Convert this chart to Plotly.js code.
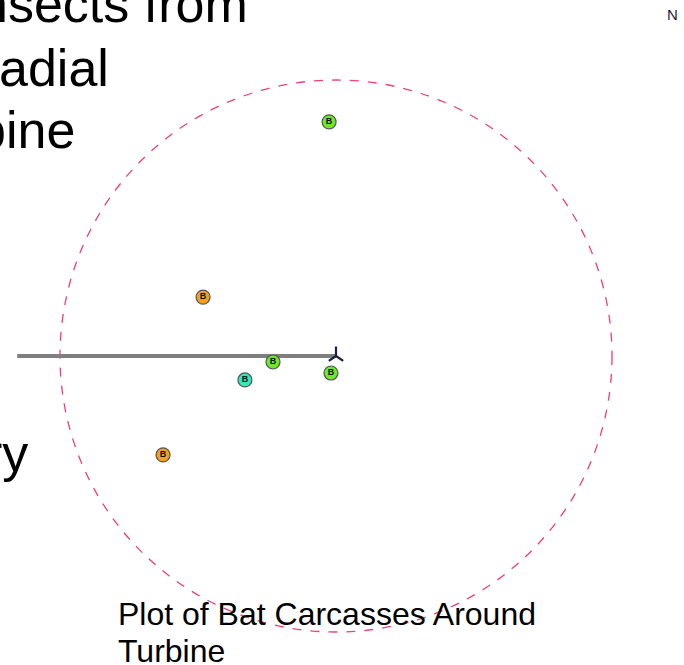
<!DOCTYPE html>
<html>
<head>
<meta charset="utf-8">
<script src="https://cdn.plot.ly/plotly-3.0.1.min.js"></script>
<style>
  html, body { margin: 0; padding: 0; background: #ffffff; overflow: hidden; }
  #chart { width: 684px; height: 665px; }
</style>
</head>
<body>
<div id="chart"></div>
<script>
// ---- data (metres, turbine at origin) ----
const batX = [-1.5, -28.9, -13.7, -19.8, -1.1, -37.6];
const batY = [50.9, 12.8, -1.3, -5.2, -3.7, -21.5];
const batCategory = ['A', 'B', 'A', 'C', 'A', 'B'];
const batLabel = ['B', 'B', 'B', 'B', 'B', 'B'];
const turbineX = [0];
const turbineY = [0];
const transectX = [0, -69.3];
const transectY = [0, 0];
const searchRadius = 60;

const slideLines = ['nsects from', 'adial', 'bine', 'ry'];
const captionLines = ['Plot of Bat Carcasses Around', 'Turbine'];

// ---- styling ----
const catColor = { A: '#6ee82a', B: '#f2a21a', C: '#33e8b8' };
const W = 684, H = 665;
const px = v => v / W;
const py = v => 1 - v / H;

const traces = [];
traces.push({
  x: transectX, y: transectY, mode: 'lines', type: 'scatter',
  line: { color: '#7f7f7f', width: 4 }, hoverinfo: 'skip', showlegend: false
});
['A', 'B', 'C'].forEach(c => {
  const xs = [], ys = [], ts = [];
  batX.forEach((v, i) => {
    if (batCategory[i] === c) { xs.push(v); ys.push(batY[i]); ts.push(batLabel[i]); }
  });
  traces.push({
    x: xs, y: ys, text: ts, mode: 'markers+text', type: 'scatter',
    textposition: 'middle center',
    textfont: { family: 'Liberation Sans, Arial, sans-serif', size: 9, color: '#111111', weight: 'bold' },
    marker: { size: 14, color: catColor[c], line: { color: '#555555', width: 1.2 } },
    showlegend: false
  });
});
traces.push({
  x: turbineX, y: turbineY, mode: 'markers', type: 'scatter',
  marker: { symbol: 'y-up', size: 12, color: '#1a2040', line: { color: '#1a2040', width: 2.2 } },
  showlegend: false
});

const scale = 4.6; // px per metre
const xr = [-336 / scale, (W - 336) / scale];
const yr = [(356 - H) / scale, 356 / scale];

const bigFont = { family: 'Liberation Sans, Arial, sans-serif', size: 52, color: '#000000' };
const capFont = { family: 'Liberation Sans, Arial, sans-serif', size: 32, color: '#000000' };

const annotations = [
  { text: slideLines[0], x: px(249), y: py(4), xanchor: 'right', yanchor: 'middle', font: bigFont },
  { text: slideLines[1], x: px(110), y: py(68), xanchor: 'right', yanchor: 'middle', font: bigFont },
  { text: slideLines[2], x: px(76), y: py(130), xanchor: 'right', yanchor: 'middle', font: bigFont },
  { text: slideLines[3], x: px(29), y: py(453), xanchor: 'right', yanchor: 'middle', font: bigFont },
  { text: captionLines[0], x: px(117), y: py(614), xanchor: 'left', yanchor: 'middle', font: capFont },
  { text: captionLines[1], x: px(117), y: py(651), xanchor: 'left', yanchor: 'middle', font: capFont },
  { text: 'N', x: px(666), y: py(15), xanchor: 'left', yanchor: 'middle',
    font: { family: 'Liberation Sans, Arial, sans-serif', size: 15, color: '#1a1a3a' } }
].map(a => Object.assign({ xref: 'paper', yref: 'paper', showarrow: false, borderpad: 0 }, a));

const layout = {
  width: W, height: H,
  margin: { l: 0, r: 0, t: 0, b: 0, pad: 0 },
  paper_bgcolor: '#ffffff', plot_bgcolor: '#ffffff',
  xaxis: { range: xr, visible: false, fixedrange: true },
  yaxis: { range: yr, visible: false, fixedrange: true },
  shapes: [{
    type: 'circle', xref: 'x', yref: 'y',
    x0: -searchRadius, x1: searchRadius, y0: -searchRadius, y1: searchRadius,
    line: { color: '#ee3f7a', width: 1.3, dash: 'dash' }, layer: 'below'
  }],
  annotations: annotations,
  showlegend: false
};

Plotly.newPlot('chart', traces, layout, { displayModeBar: false, staticPlot: true });
</script>
</body>
</html>
